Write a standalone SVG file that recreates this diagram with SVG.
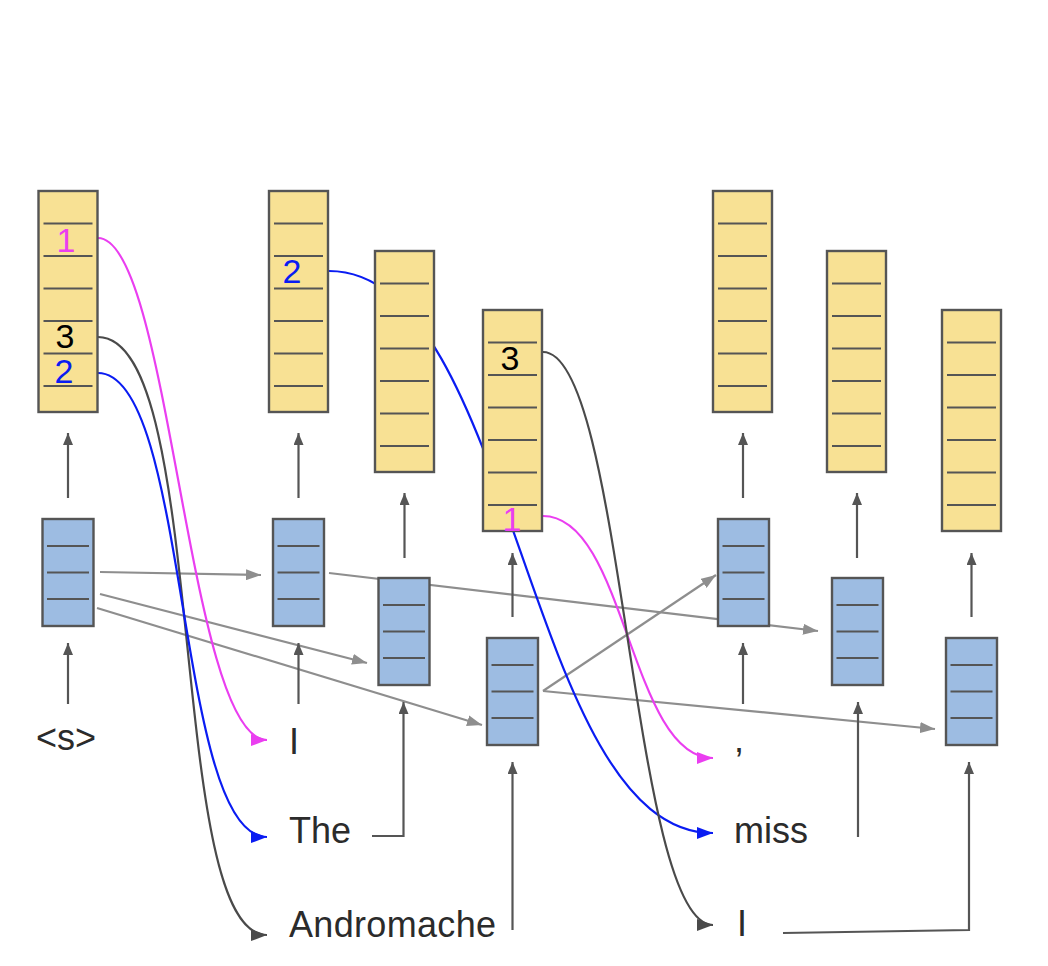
<svg xmlns="http://www.w3.org/2000/svg" xmlns:xlink="http://www.w3.org/1999/xlink" width="1048" height="966" viewBox="0 0 1048 966">
<style>
.y{fill:#f8e194;stroke:#555;stroke-width:2.4}
.b{fill:#9dbce2;stroke:#555;stroke-width:2.4}
.ln{stroke:#555;stroke-width:2.2;fill:none}
.ar{stroke:#555;stroke-width:2.2;fill:none;marker-end:url(#ahd)}
.gr{stroke:#8e8e8e;stroke-width:2.2;fill:none;marker-end:url(#ahg)}
.cm{stroke:#ea3ef0;stroke-width:2.2;fill:none;marker-end:url(#ahm)}
.cb{stroke:#0a1cf2;stroke-width:2.2;fill:none;marker-end:url(#ahb)}
.ck{stroke:#4a4a4a;stroke-width:2.2;fill:none;marker-end:url(#ahk)}
.lbl{font-family:"Liberation Sans",Arial,sans-serif;font-size:36px;fill:#2b2b2b}
.dg{font-family:"Liberation Sans",Arial,sans-serif;font-size:34px;text-anchor:middle}
</style>
<defs>
<marker id="ahd" viewBox="0 0 12 10" refX="12" refY="5" markerWidth="12" markerHeight="10" markerUnits="userSpaceOnUse" orient="auto"><path d="M0,0L12,5L0,10z" fill="#555"/></marker>
<marker id="ahg" viewBox="0 0 15 11" refX="15" refY="5.5" markerWidth="15" markerHeight="11" markerUnits="userSpaceOnUse" orient="auto"><path d="M0,0L15,5.5L0,11z" fill="#8e8e8e"/></marker>
<marker id="ahm" viewBox="0 0 16 12" refX="16" refY="6" markerWidth="16" markerHeight="12" markerUnits="userSpaceOnUse" orient="auto"><path d="M0,0L16,6L0,12z" fill="#ea3ef0"/></marker>
<marker id="ahb" viewBox="0 0 16 12" refX="16" refY="6" markerWidth="16" markerHeight="12" markerUnits="userSpaceOnUse" orient="auto"><path d="M0,0L16,6L0,12z" fill="#0a1cf2"/></marker>
<marker id="ahk" viewBox="0 0 16 12" refX="16" refY="6" markerWidth="16" markerHeight="12" markerUnits="userSpaceOnUse" orient="auto"><path d="M0,0L16,6L0,12z" fill="#4a4a4a"/></marker>
<g id="ybox"><rect x="-29.5" y="0" width="59" height="221" class="y"/><path class="ln" d="M-24.5,32.5H24.5M-24.5,65H24.5M-24.5,97.5H24.5M-24.5,130H24.5M-24.5,162.5H24.5M-24.5,195H24.5"/></g>
<g id="bbox"><rect x="-25.5" y="0" width="51" height="107" class="b"/><path class="ln" d="M-21,27H21M-21,53.5H21M-21,80H21"/></g>
</defs>
<rect width="1048" height="966" fill="#fff"/>
<g id="connectors">
<path class="gr" d="M100,572L261,575"/>
<path class="gr" d="M100,594L367,663"/>
<path class="gr" d="M97,608L482,725"/>
<path class="gr" d="M329,573L818,631"/>
<path class="gr" d="M543,691L716,575"/>
<path class="gr" d="M543,691L935,729"/>
<path class="ar" d="M68,498V433"/>
<path class="ar" d="M68,704V643"/>
<path class="ar" d="M298.5,498V433"/>
<path class="ar" d="M298.5,704V643"/>
<path class="ar" d="M404.5,558V493"/>
<path class="ar" d="M372,836H403.5V702"/>
<path class="ar" d="M512.5,617V553"/>
<path class="ar" d="M512.5,930V762"/>
<path class="ar" d="M743,498V433"/>
<path class="ar" d="M743,704V643"/>
<path class="ar" d="M857,558V493"/>
<path class="ar" d="M858,837V702"/>
<path class="ar" d="M971.5,617V553"/>
<path class="ar" d="M783,933L969,930V762"/>
<path class="cm" d="M98,238C170,238 188,740 267,740"/>
<path class="ck" d="M98,337C210,337 165,935 267,935"/>
<path class="cb" d="M98,373C190,373 175,837 267,837"/>
<path class="cb" d="M329,271C516,271 525,833 713,833"/>
<path class="cm" d="M543,516C626,516 630,758 713,758"/>
<path class="ck" d="M543,352C624,352 631,925 713,925"/>
</g>
<g id="Y1"><use xlink:href="#ybox" x="68" y="191"/><text class="dg" x="66" y="252" fill="#ea3ef0">1</text><text class="dg" x="65" y="348" fill="#000">3</text><text class="dg" x="64" y="383" fill="#0a1cf2">2</text></g>
<g id="Y2"><use xlink:href="#ybox" x="298.5" y="191"/><text class="dg" x="292" y="283" fill="#0a1cf2">2</text></g>
<g id="Y3"><use xlink:href="#ybox" x="404.5" y="251"/></g>
<g id="Y4"><use xlink:href="#ybox" x="512.5" y="310"/><text class="dg" x="510" y="370" fill="#000">3</text><text class="dg" x="512" y="531" fill="#ea3ef0">1</text></g>
<g id="Y5"><use xlink:href="#ybox" x="742.5" y="191"/></g>
<g id="Y6"><use xlink:href="#ybox" x="856.5" y="251"/></g>
<g id="Y7"><use xlink:href="#ybox" x="971.5" y="310"/></g>
<g id="B1"><use xlink:href="#bbox" x="68" y="519"/></g>
<g id="B2"><use xlink:href="#bbox" x="298.5" y="519"/></g>
<g id="B3"><use xlink:href="#bbox" x="404" y="578"/></g>
<g id="B4"><use xlink:href="#bbox" x="512.5" y="638"/></g>
<g id="B5"><use xlink:href="#bbox" x="743.5" y="519"/></g>
<g id="B6"><use xlink:href="#bbox" x="857.5" y="578"/></g>
<g id="B7"><use xlink:href="#bbox" x="971.5" y="638"/></g>
<g id="labels">
<text class="lbl" x="66" y="750" text-anchor="middle">&lt;s&gt;</text>
<text class="lbl" x="289" y="754">I</text>
<text class="lbl" x="289" y="843">The</text>
<text class="lbl" x="289" y="937" textLength="207" lengthAdjust="spacing">Andromache</text>
<text class="lbl" x="734" y="752">,</text>
<text class="lbl" x="734" y="843">miss</text>
<text class="lbl" x="737" y="936">I</text>
</g>
</svg>
